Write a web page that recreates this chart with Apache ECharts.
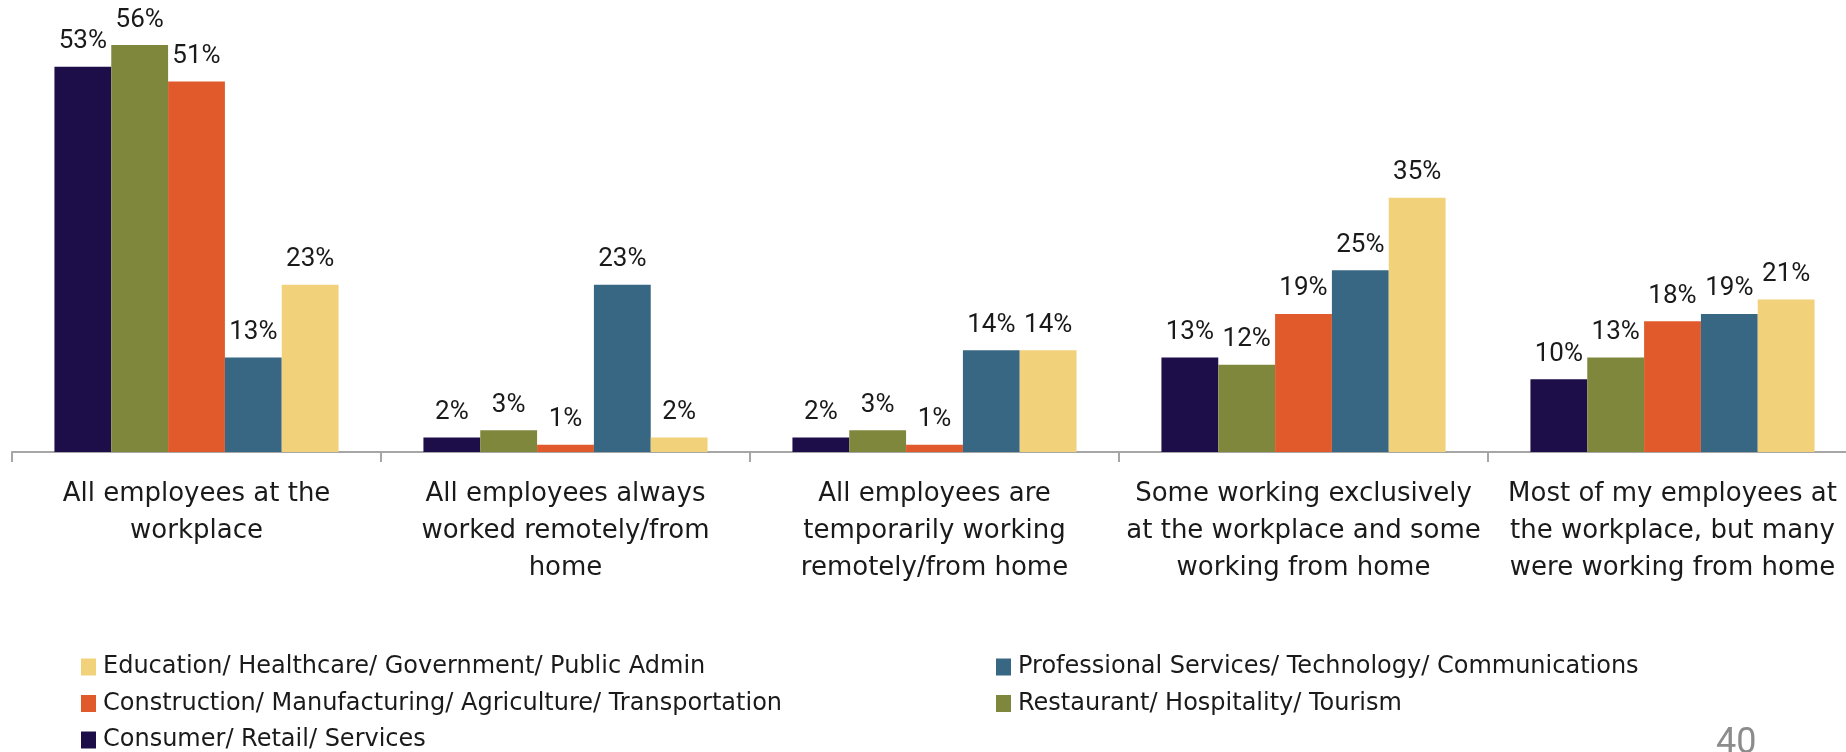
<!DOCTYPE html>
<html>
<head>
<meta charset="utf-8">
<script src="https://cdn.jsdelivr.net/npm/echarts@6/dist/echarts.min.js"></script>
<style>
html,body{margin:0;padding:0;background:#fff;}
#chart{width:1846px;height:752px;}
</style>
</head>
<body>
<div id="chart"></div>
<script>
const categories = [
  "All employees at the\nworkplace",
  "All employees always\nworked remotely/from\nhome",
  "All employees are\ntemporarily working\nremotely/from home",
  "Some working exclusively\nat the workplace and some\nworking from home",
  "Most of my employees at\nthe workplace, but many\nwere working from home"
];
const seriesNames = [
  "Consumer/ Retail/ Services",
  "Restaurant/ Hospitality/ Tourism",
  "Construction/ Manufacturing/ Agriculture/ Transportation",
  "Professional Services/ Technology/ Communications",
  "Education/ Healthcare/ Government/ Public Admin"
];
const consumer = [53, 2, 2, 13, 10];
const restaurant = [56, 3, 3, 12, 13];
const construction = [51, 1, 1, 19, 18];
const professional = [13, 23, 14, 25, 19];
const education = [23, 2, 14, 35, 21];
const colors = ["#1d0e4a", "#7f873d", "#e05a2b", "#386784", "#f2d17b"];
const pageNumber = "40";

const values = [consumer, restaurant, construction, professional, education];
const LABEL_FONT = "Roboto, 'Liberation Sans', sans-serif";
const TEXT_FONT = "'DejaVu Sans', sans-serif";
const legendText = { fontFamily: TEXT_FONT, fontSize: 24, color: '#1a1a1a', lineHeight: 30, padding: [0, 0, 0, 2] };
const chart = echarts.init(document.getElementById('chart'));
chart.setOption({
  animation: false,
  color: colors,
  grid: { left: 12, width: 1845, top: 16, bottom: 300, containLabel: false, outerBoundsMode: 'none' },
  legend: [
    {
      orient: 'vertical', left: 81, top: 652, height: 140, padding: 0,
      data: [seriesNames[4], seriesNames[2], seriesNames[0]],
      itemWidth: 15, itemHeight: 17, itemGap: 6.5, icon: 'rect',
      textStyle: legendText
    },
    {
      orient: 'vertical', left: 996, top: 652, height: 140, padding: 0,
      data: [seriesNames[3], seriesNames[1]],
      itemWidth: 15, itemHeight: 17, itemGap: 6.5, icon: 'rect',
      textStyle: legendText
    }
  ],
  xAxis: {
    type: 'category',
    data: categories,
    axisLine: { lineStyle: { color: '#a6a6a6', width: 2 } },
    axisTick: { show: true, length: 10, lineStyle: { color: '#a6a6a6', width: 2 } },
    axisLabel: { interval: 0, margin: 24, fontFamily: TEXT_FONT, fontSize: 26, lineHeight: 37, color: '#1a1a1a' }
  },
  yAxis: {
    type: 'value', min: 0, max: 60, show: false, splitLine: { show: false }
  },
  graphic: [{
    type: 'text', left: 1716, top: 726,
    style: { text: pageNumber, fontFamily: LABEL_FONT, fontSize: 36, fill: '#8c8c8c' }
  }],
  series: values.map((v, i) => ({
    name: seriesNames[i],
    type: 'bar',
    data: v,
    barGap: 0,
    barCategoryGap: '23%',
    label: {
      show: true, position: 'top', distance: 12,
      formatter: '{c}%',
      fontFamily: LABEL_FONT, fontSize: 26, color: '#1a1a1a'
    }
  }))
});
</script>
</body>
</html>
